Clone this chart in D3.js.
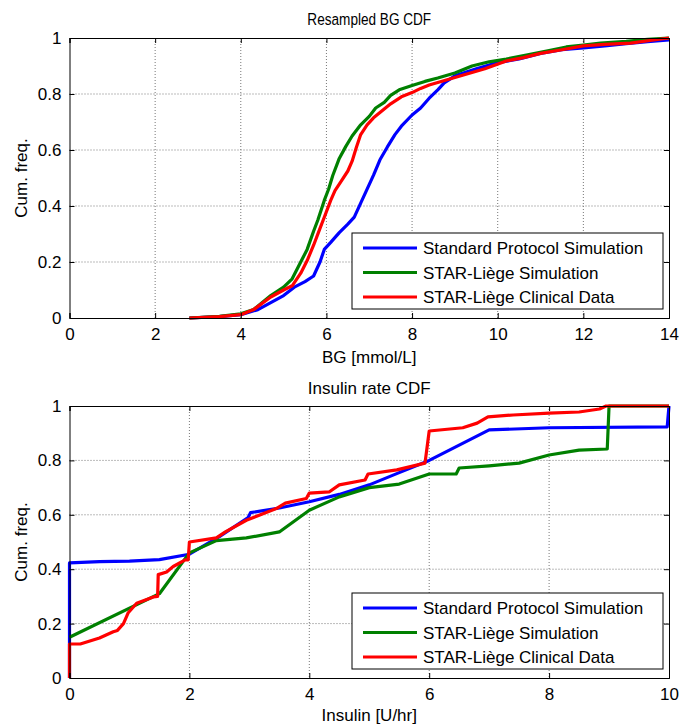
<!DOCTYPE html>
<html>
<head>
<meta charset="utf-8">
<script src="https://cdn.jsdelivr.net/npm/d3@7"></script>
<style>
  body { margin: 0; background: #fff; }
  svg { display: block; }
</style>
</head>
<body>
<div id="chart"></div>
<script>
// ---- data ----
var seriesNames = ['Standard Protocol Simulation', 'STAR-Liège Simulation', 'STAR-Liège Clinical Data'];
var seriesColors = ['#0000ff', '#008000', '#ff0000'];

var bgTicks = [0, 2, 4, 6, 8, 10, 12, 14];
var insulinTicks = [0, 2, 4, 6, 8, 10];
var freqTicks = [0, 0.2, 0.4, 0.6, 0.8, 1];

// BG CDF: [BG mmol/L, cum. freq.]
var bgStandard = [[2.8,0],[3.5,0.005],[4.0,0.012],[4.4,0.03],[4.7,0.055],[5.0,0.08],[5.25,0.11],[5.5,0.13],
  [5.7,0.15],[5.85,0.2],[5.95,0.245],[6.1,0.27],[6.3,0.305],[6.5,0.335],[6.65,0.36],[6.8,0.41],[6.95,0.46],
  [7.1,0.51],[7.25,0.565],[7.42,0.61],[7.6,0.655],[7.75,0.685],[8.0,0.725],[8.2,0.75],[8.4,0.785],[8.6,0.815],
  [8.75,0.84],[9.0,0.865],[9.5,0.89],[10,0.912],[10.5,0.925],[11,0.945],[11.5,0.958],[12,0.965],[12.5,0.972],
  [13,0.98],[13.5,0.987],[14,0.993]];
var bgStarSim = [[2.8,0],[3.5,0.006],[4.0,0.015],[4.3,0.03],[4.7,0.08],[5.0,0.11],[5.2,0.14],[5.4,0.2],
  [5.55,0.245],[5.7,0.31],[5.8,0.35],[5.95,0.42],[6.05,0.46],[6.15,0.51],[6.3,0.57],[6.45,0.612],[6.6,0.65],
  [6.8,0.69],[7.0,0.72],[7.15,0.75],[7.35,0.77],[7.5,0.795],[7.7,0.815],[8.0,0.83],[8.3,0.845],[8.6,0.857],
  [9.0,0.875],[9.4,0.9],[9.8,0.915],[10.2,0.925],[10.7,0.94],[11.2,0.955],[11.6,0.968],[12.0,0.975],
  [12.4,0.982],[13,0.988],[13.5,0.995],[14,1]];
var bgStarClinical = [[2.8,0],[3.5,0.005],[4.0,0.012],[4.3,0.03],[4.7,0.075],[5.0,0.1],[5.2,0.115],[5.4,0.16],
  [5.55,0.205],[5.7,0.26],[5.85,0.32],[5.95,0.36],[6.1,0.42],[6.2,0.455],[6.35,0.49],[6.5,0.525],[6.6,0.56],
  [6.7,0.61],[6.8,0.655],[6.95,0.69],[7.1,0.715],[7.3,0.74],[7.5,0.765],[7.75,0.79],[8.0,0.805],[8.2,0.82],
  [8.4,0.832],[8.8,0.85],[9.2,0.868],[9.7,0.89],[10.2,0.918],[10.6,0.93],[11.0,0.945],[11.5,0.958],
  [12.0,0.972],[12.5,0.977],[13.1,0.982],[13.6,0.992],[14,1]];

// Insulin rate CDF: [U/hr, cum. freq.]
var insStandard = [[0,0],[0,0.423],[0.5,0.428],[1.0,0.43],[1.5,0.435],[2.0,0.455],[2.5,0.52],[2.98,0.59],
  [3.02,0.608],[3.5,0.625],[4.0,0.648],[4.5,0.675],[5.0,0.71],[5.5,0.755],[6.0,0.8],[7.0,0.912],[8.0,0.92],
  [9.97,0.923],[10,1]];
var insStarSim = [[0,0.15],[1.5,0.31],[2.0,0.46],[2.45,0.505],[2.95,0.515],[3.5,0.537],[4.0,0.617],[4.5,0.666],
  [5.0,0.70],[5.5,0.713],[6.0,0.75],[6.45,0.75],[6.5,0.772],[7.0,0.78],[7.5,0.79],[8.0,0.82],[8.5,0.838],
  [8.97,0.842],[9.0,1],[10,1]];
var insStarClinical = [[0,0],[0,0.125],[0.18,0.125],[0.5,0.147],[0.73,0.17],[0.8,0.175],[0.9,0.2],[0.98,0.24],
  [1.12,0.275],[1.4,0.298],[1.47,0.30],[1.48,0.38],[1.62,0.39],[1.73,0.41],[1.93,0.434],[1.98,0.434],[2.0,0.5],
  [2.45,0.515],[2.6,0.537],[2.95,0.58],[3.45,0.623],[3.6,0.643],[3.95,0.66],[4.0,0.68],[4.33,0.684],[4.5,0.71],
  [4.93,0.728],[4.98,0.75],[5.46,0.765],[5.93,0.79],[6.0,0.908],[6.56,0.92],[6.8,0.937],[6.98,0.96],[7.4,0.967],
  [8.0,0.974],[8.5,0.978],[8.84,0.989],[8.95,1.0],[10,1.0]];

// ---- drawing ----
var width = 681, height = 724;
var mainFont = '"Liberation Sans", Arial, sans-serif';

var svg = d3.select('#chart').append('svg')
    .attr('width', width)
    .attr('height', height)
    .style('font-family', mainFont);

drawPanel({
    left: 69.5, right: 669, top: 38, bottom: 318,
    xMax: 14, xTicks: bgTicks,
    series: [bgStandard, bgStarSim, bgStarClinical],
    title: 'Resampled BG CDF', titleY: 25, titleSqueeze: 0.8,
    xLabel: 'BG [mmol/L]', xLabelY: 363,
    legendTop: 233
});

drawPanel({
    left: 69.5, right: 669, top: 406, bottom: 678,
    xMax: 10, xTicks: insulinTicks,
    series: [insStandard, insStarSim, insStarClinical],
    title: 'Insulin rate CDF', titleY: 394, titleSqueeze: 1,
    xLabel: 'Insulin [U/hr]', xLabelY: 721,
    legendTop: 593
});

function drawPanel(p) {
    var x = d3.scaleLinear().domain([0, p.xMax]).range([p.left, p.right]);
    var y = d3.scaleLinear().domain([0, 1]).range([p.bottom, p.top]);
    var g = svg.append('g');

    // dotted grid
    g.append('g').selectAll('line.vgrid')
        .data(p.xTicks.slice(1, -1)).enter().append('line')
        .attr('x1', function(d) { return x(d); })
        .attr('x2', function(d) { return x(d); })
        .attr('y1', p.top).attr('y2', p.bottom)
        .attr('stroke', '#777').attr('stroke-width', 1)
        .attr('stroke-dasharray', '1,2');
    g.append('g').selectAll('line.hgrid')
        .data(freqTicks.slice(1, -1)).enter().append('line')
        .attr('y1', function(d) { return y(d); })
        .attr('y2', function(d) { return y(d); })
        .attr('x1', p.left).attr('x2', p.right)
        .attr('stroke', '#777').attr('stroke-width', 1)
        .attr('stroke-dasharray', '1,2');

    // curves
    var line = d3.line()
        .x(function(d) { return x(d[0]); })
        .y(function(d) { return y(d[1]); });
    p.series.forEach(function(s, i) {
        g.append('path')
            .attr('d', line(s))
            .attr('fill', 'none')
            .attr('stroke', seriesColors[i])
            .attr('stroke-width', 3.2)
            .attr('stroke-linejoin', 'round');
    });

    // axes: ticks inside on all four sides (boxed)
    var tickLen = 5;
    g.append('g').attr('transform', 'translate(0,' + p.bottom + ')')
        .call(d3.axisBottom(x).tickValues(p.xTicks).tickSize(-tickLen).tickPadding(10))
        .call(styleAxis);
    g.append('g').attr('transform', 'translate(0,' + p.top + ')')
        .call(d3.axisTop(x).tickValues(p.xTicks).tickSize(-tickLen).tickFormat(''))
        .call(styleAxis);
    g.append('g').attr('transform', 'translate(' + p.left + ',0)')
        .call(d3.axisLeft(y).tickValues(freqTicks).tickSize(-tickLen).tickPadding(8)
            .tickFormat(d3.format('~g')))
        .call(styleAxis);
    g.append('g').attr('transform', 'translate(' + p.right + ',0)')
        .call(d3.axisRight(y).tickValues(freqTicks).tickSize(-tickLen).tickFormat(''))
        .call(styleAxis);

    // titles
    g.append('text')
        .attr('transform', 'translate(' + ((p.left + p.right) / 2) + ',' + p.titleY + ') scale(' + p.titleSqueeze + ',1)')
        .attr('text-anchor', 'middle')
        .style('font-size', '17px')
        .text(p.title);
    g.append('text')
        .attr('x', (p.left + p.right) / 2).attr('y', p.xLabelY)
        .attr('text-anchor', 'middle')
        .style('font-size', '17px')
        .text(p.xLabel);
    g.append('text')
        .attr('transform', 'translate(27,' + ((p.top + p.bottom) / 2) + ') rotate(-90)')
        .attr('text-anchor', 'middle')
        .style('font-size', '17px')
        .text('Cum. freq.');

    // legend
    var lg = g.append('g').attr('transform', 'translate(352,' + p.legendTop + ')');
    lg.append('rect')
        .attr('width', 311).attr('height', 76)
        .attr('fill', '#fff').attr('stroke', '#000').attr('stroke-width', 1);
    seriesNames.forEach(function(name, i) {
        var rowY = 15 + i * 24.5;
        lg.append('line')
            .attr('x1', 11).attr('x2', 65)
            .attr('y1', rowY).attr('y2', rowY)
            .attr('stroke', seriesColors[i]).attr('stroke-width', 3.2);
        lg.append('text')
            .attr('x', 71).attr('y', rowY + 6)
            .style('font-size', '17px')
            .text(name);
    });
}

function styleAxis(sel) {
    sel.select('.domain').attr('stroke', '#000');
    sel.selectAll('.tick line').attr('stroke', '#000');
    sel.selectAll('.tick text')
        .attr('fill', '#000')
        .style('font-family', mainFont)
        .style('font-size', '17px');
}
</script>
</body>
</html>
